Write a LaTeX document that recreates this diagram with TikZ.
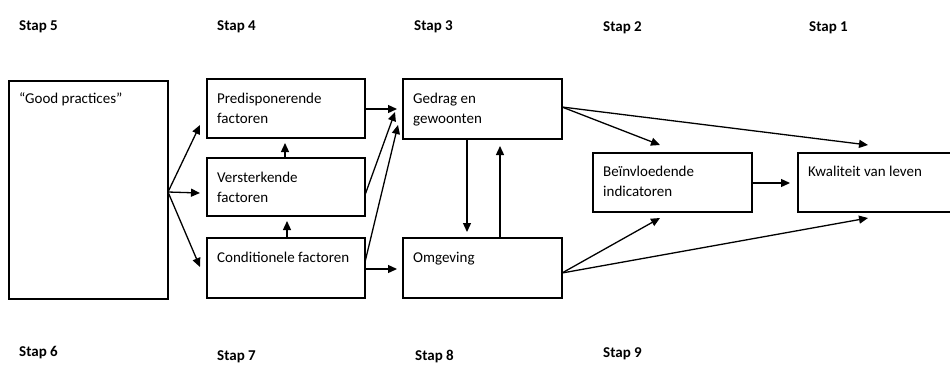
\documentclass[tikz,border=0pt]{standalone}
\usepackage{fontspec}
\setmainfont{Carlito}
\usetikzlibrary{arrows.meta,calc}
\begin{document}
\begin{tikzpicture}[x=1pt,y=-1pt,
  box/.style={draw, line width=2.4pt, rectangle, inner sep=0pt, outer sep=0pt, anchor=north west},
  txt/.style={anchor=north west, inner sep=0pt, align=left, font=\fontsize{15}{20}\selectfont},
  steplabel/.style={anchor=base west, inner sep=0pt, font=\bfseries\fontsize{15}{18}\selectfont},
  arr/.style={line width=1.3pt, -{Triangle[length=9pt,width=8pt]}}]
\useasboundingbox (0,0) rectangle (950,365);
% boxes
\node[box, minimum width=159pt, minimum height=218pt] (gp) at (9,81) {};
\node[box, minimum width=158pt, minimum height=59pt] (pred) at (207,79) {};
\node[box, minimum width=158pt, minimum height=58pt] (vers) at (207,158) {};
\node[box, minimum width=158pt, minimum height=60pt] (cond) at (207,238) {};
\node[box, minimum width=159pt, minimum height=60pt] (ged) at (403,79) {};
\node[box, minimum width=159pt, minimum height=60pt] (omg) at (403,238) {};
\node[box, minimum width=159pt, minimum height=59pt] (bein) at (593,153) {};
\node[box, minimum width=160pt, minimum height=59pt] (kwal) at (798,153) {};
% texts
\node[txt] (gpt) at ($(gp.north west)+(10,11)$) {“Good practices”};
\node[txt] (predt) at ($(pred.north west)+(10,14)$) {Predisponerende\\factoren};
\node[txt] (verst) at ($(vers.north west)+(10,14)$) {Versterkende\\factoren};
\node[txt] (condt) at ($(cond.north west)+(10,14)$) {Conditionele factoren};
\node[txt] (gedt) at ($(ged.north west)+(10,14)$) {Gedrag en\\gewoonten};
\node[txt] (omgt) at ($(omg.north west)+(10,14)$) {Omgeving};
\node[txt] (beint) at ($(bein.north west)+(10,13)$) {Beïnvloedende\\indicatoren};
\node[txt] (kwalt) at ($(kwal.north west)+(10,13)$) {Kwaliteit van leven};
% step labels
\node[steplabel] (s5) at (19,30) {Stap 5};
\node[steplabel] (s4) at (217,30) {Stap 4};
\node[steplabel] (s3) at (414,30) {Stap 3};
\node[steplabel] (s2) at (603,31) {Stap 2};
\node[steplabel] (s1) at (809,31) {Stap 1};
\node[steplabel] (s6) at (19,356) {Stap 6};
\node[steplabel] (s7) at (217,360) {Stap 7};
\node[steplabel] (s8) at (415,360) {Stap 8};
\node[steplabel] (s9) at (603,357) {Stap 9};
% coordinates
\coordinate (gpo) at ($(gp.north east)+(0,111)$);
% arrows from good practices
\draw[arr] (gpo) -- ($(pred.south west)+(-7,-13)$);
\draw[arr] (gpo) -- ($(vers.west)+(-7,6)$);
\draw[arr] (gpo) -- ($(cond.west)+(-7,-1)$);
% vertical small arrows
\draw[arr] ($(vers.north west)+(78,0)$) -- ($(pred.south west)+(78,5)$);
\draw[arr] ($(cond.north west)+(80,0)$) -- ($(vers.south west)+(80,5)$);
% to gedrag
\draw[arr] ($(pred.north east)+(0,30)$) -- ($(ged.north west)+(-6,30)$);
\draw[arr] ($(vers.north east)+(0,37)$) -- ($(ged.north west)+(-8,33)$);
\draw[arr] ($(cond.north east)+(0,24)$) -- ($(ged.north west)+(-5,46)$);
\draw[arr] ($(cond.north east)+(0,31)$) -- ($(omg.north west)+(-6,31)$);
% gedrag <-> omgeving
\draw[arr] ($(ged.south west)+(64,0)$) -- ($(omg.north west)+(64,-6)$);
\draw[arr] ($(omg.north west)+(97,0)$) -- ($(ged.south west)+(97,7)$);
% to right
\coordinate (gedo) at ($(ged.north east)+(0,28)$);
\coordinate (omgo) at ($(omg.north east)+(0,35)$);
\draw[arr] (gedo) -- ($(bein.north west)+(67,-8)$);
\draw[arr] (gedo) -- ($(kwal.north west)+(70,-8)$);
\draw[arr] ($(bein.north east)+(0,30)$) -- ($(kwal.north west)+(-8,30)$);
\draw[arr] (omgo) -- ($(bein.south west)+(67,6)$);
\draw[arr] (omgo) -- ($(kwal.south west)+(70,6)$);
\end{tikzpicture}
\end{document}
